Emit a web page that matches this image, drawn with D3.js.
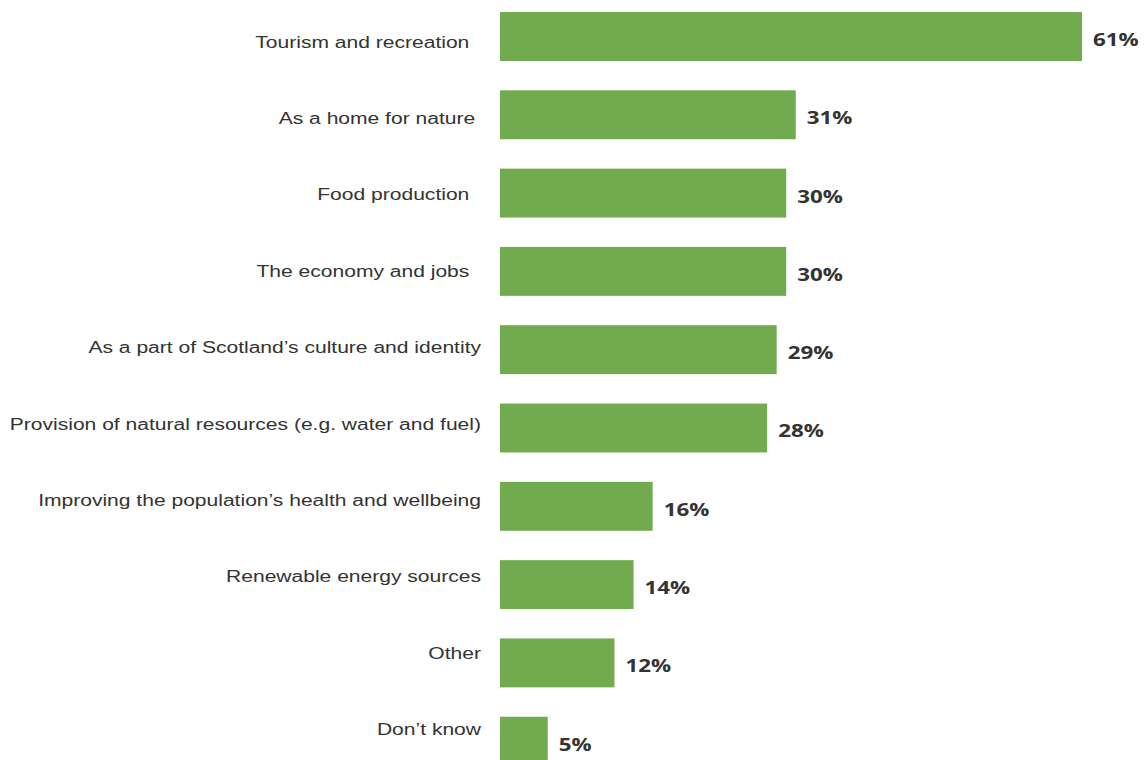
<!DOCTYPE html>
<html>
<head>
<meta charset="utf-8">
<script src="https://cdn.jsdelivr.net/npm/d3@7"></script>
<style>
  html, body { margin: 0; padding: 0; background: #ffffff; }
  svg { display: block; }
  text { white-space: pre; }
</style>
</head>
<body>
<svg id="chart" width="1144" height="760"></svg>
<script>
// ---- data ----
const categories = [
  "Tourism and recreation  ",
  "As a home for nature ",
  "Food production  ",
  "The economy and jobs  ",
  "As a part of Scotland\u2019s culture and identity",
  "Provision of natural resources (e.g. water and fuel)",
  "Improving the population\u2019s health and wellbeing",
  "Renewable energy sources",
  "Other",
  "Don\u2019t know"
];
const values = [61, 31, 30, 30, 29, 28, 16, 14, 12, 5];
const valueLabels = ["61%", "31%", "30%", "30%", "29%", "28%", "16%", "14%", "12%", "5%"];

// ---- layout ----
const barColor = "#71AA4F";
const textColor = "#333333";
const stretch = 1.315; // horizontal text stretch seen in the reference

const svg = d3.select("#chart");

const x = d3.scaleLinear().domain([0, 100]).range([500, 1454.1]);

const y = d3.scaleBand()
  .domain(categories)
  .range([-2.65, 780.35])
  .paddingInner(0.375)
  .paddingOuter(0.1875);

// labels sit on a slightly tighter spacing than the bars in the reference
const yLabel = d3.scalePoint()
  .domain(categories)
  .range([42, 42 + 76.4 * 9]);

const data = categories.map((c, i) => ({ cat: c, value: values[i], label: valueLabels[i] }));

// bars
svg.append("g")
  .selectAll("rect")
  .data(data)
  .join("rect")
  .attr("x", x(0))
  .attr("y", d => y(d.cat))
  .attr("width", d => x(d.value) - x(0))
  .attr("height", y.bandwidth())
  .attr("fill", barColor);

// category labels
svg.append("g")
  .selectAll("text")
  .data(data)
  .join("text")
  .attr("transform", d => `translate(481,${yLabel(d.cat)}) scale(${stretch},1)`)
  .attr("text-anchor", "end")
  .attr("dominant-baseline", "central")
  .attr("font-family", "'Liberation Sans', Arial, sans-serif")
  .attr("font-size", 16)
  .attr("fill", textColor)
  .text(d => d.cat);

// value labels
svg.append("g")
  .selectAll("text")
  .data(data)
  .join("text")
  .attr("transform", d => `translate(${x(d.value) + 11},${y(d.cat) + y.bandwidth() / 2 + 3}) scale(${stretch},1)`)
  .attr("text-anchor", "start")
  .attr("dominant-baseline", "central")
  .attr("font-family", "'Open Sans', sans-serif")
  .attr("font-weight", 700)
  .attr("font-size", 17)
  .attr("fill", textColor)
  .text(d => d.label);
</script>
</body>
</html>
